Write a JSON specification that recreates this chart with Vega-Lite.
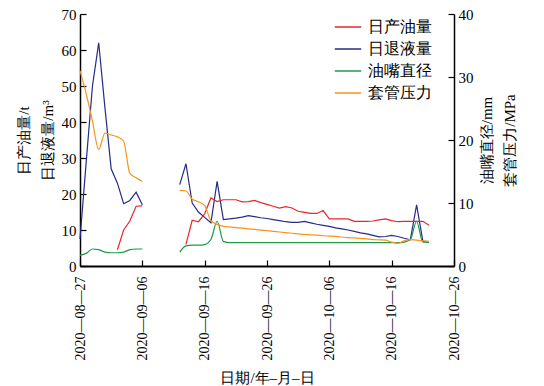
{
  "$schema": "https://vega.github.io/schema/vega-lite/v6.json",
  "width": 374,
  "height": 252,
  "autosize": {"type": "none"},
  "padding": {"left": 80, "top": 14, "right": 90, "bottom": 120},
  "background": "white",
  "config": {
    "view": {"stroke": null},
    "font": "Liberation Serif",
    "axis": {
      "domainColor": "#000000",
      "domainWidth": 1.5,
      "tickColor": "#000000",
      "tickWidth": 1.2,
      "tickSize": -6,
      "labelColor": "#000000",
      "labelFont": "Liberation Serif",
      "labelFontSize": 15,
      "titleFont": "Liberation Serif",
      "titleFontSize": 15,
      "titleFontWeight": "normal",
      "titleColor": "#000000",
      "grid": false
    },
    "legend": {
      "labelFont": "Liberation Serif",
      "labelFontSize": 16,
      "labelColor": "#000000"
    }
  },
  "data": {
    "values": [
      {"d": "2020-08-27", "s": "日退液量", "g": "a", "v": 7.5},
      {"d": "2020-08-28", "s": "日退液量", "g": "a", "v": 29},
      {"d": "2020-08-29", "s": "日退液量", "g": "a", "v": 50},
      {"d": "2020-08-30", "s": "日退液量", "g": "a", "v": 62},
      {"d": "2020-08-31", "s": "日退液量", "g": "a", "v": 44},
      {"d": "2020-09-01", "s": "日退液量", "g": "a", "v": 27},
      {"d": "2020-09-02", "s": "日退液量", "g": "a", "v": 23},
      {"d": "2020-09-03", "s": "日退液量", "g": "a", "v": 17.3},
      {"d": "2020-09-04", "s": "日退液量", "g": "a", "v": 18.2},
      {"d": "2020-09-05", "s": "日退液量", "g": "a", "v": 20.5},
      {"d": "2020-09-06", "s": "日退液量", "g": "a", "v": 17.0},
      {"d": "2020-09-12", "s": "日退液量", "g": "b", "v": 22.6},
      {"d": "2020-09-13", "s": "日退液量", "g": "b", "v": 28.4},
      {"d": "2020-09-14", "s": "日退液量", "g": "b", "v": 17.5},
      {"d": "2020-09-15", "s": "日退液量", "g": "b", "v": 15},
      {"d": "2020-09-16", "s": "日退液量", "g": "b", "v": 13.5},
      {"d": "2020-09-17", "s": "日退液量", "g": "b", "v": 12},
      {"d": "2020-09-18", "s": "日退液量", "g": "b", "v": 23.5},
      {"d": "2020-09-19", "s": "日退液量", "g": "b", "v": 12.9},
      {"d": "2020-09-20", "s": "日退液量", "g": "b", "v": 13.1},
      {"d": "2020-09-21", "s": "日退液量", "g": "b", "v": 13.3},
      {"d": "2020-09-22", "s": "日退液量", "g": "b", "v": 13.6},
      {"d": "2020-09-23", "s": "日退液量", "g": "b", "v": 14.0},
      {"d": "2020-09-24", "s": "日退液量", "g": "b", "v": 13.7},
      {"d": "2020-09-25", "s": "日退液量", "g": "b", "v": 13.4},
      {"d": "2020-09-26", "s": "日退液量", "g": "b", "v": 13.2},
      {"d": "2020-09-27", "s": "日退液量", "g": "b", "v": 12.9},
      {"d": "2020-09-28", "s": "日退液量", "g": "b", "v": 12.6},
      {"d": "2020-09-29", "s": "日退液量", "g": "b", "v": 12.3},
      {"d": "2020-09-30", "s": "日退液量", "g": "b", "v": 12.1},
      {"d": "2020-10-01", "s": "日退液量", "g": "b", "v": 12.1},
      {"d": "2020-10-02", "s": "日退液量", "g": "b", "v": 12.4},
      {"d": "2020-10-03", "s": "日退液量", "g": "b", "v": 12.0},
      {"d": "2020-10-04", "s": "日退液量", "g": "b", "v": 11.6},
      {"d": "2020-10-05", "s": "日退液量", "g": "b", "v": 11.3},
      {"d": "2020-10-06", "s": "日退液量", "g": "b", "v": 11.0},
      {"d": "2020-10-07", "s": "日退液量", "g": "b", "v": 10.6},
      {"d": "2020-10-08", "s": "日退液量", "g": "b", "v": 10.3},
      {"d": "2020-10-09", "s": "日退液量", "g": "b", "v": 10.0},
      {"d": "2020-10-10", "s": "日退液量", "g": "b", "v": 9.6},
      {"d": "2020-10-11", "s": "日退液量", "g": "b", "v": 9.2},
      {"d": "2020-10-12", "s": "日退液量", "g": "b", "v": 8.9},
      {"d": "2020-10-13", "s": "日退液量", "g": "b", "v": 8.5},
      {"d": "2020-10-14", "s": "日退液量", "g": "b", "v": 8.1},
      {"d": "2020-10-15", "s": "日退液量", "g": "b", "v": 8.2},
      {"d": "2020-10-16", "s": "日退液量", "g": "b", "v": 8.5},
      {"d": "2020-10-17", "s": "日退液量", "g": "b", "v": 8.2},
      {"d": "2020-10-18", "s": "日退液量", "g": "b", "v": 7.7},
      {"d": "2020-10-19", "s": "日退液量", "g": "b", "v": 7.3},
      {"d": "2020-10-20", "s": "日退液量", "g": "b", "v": 17.0},
      {"d": "2020-10-21", "s": "日退液量", "g": "b", "v": 6.9},
      {"d": "2020-10-22", "s": "日退液量", "g": "b", "v": 6.6},

      {"d": "2020-09-02", "s": "日产油量", "g": "a", "v": 4.5},
      {"d": "2020-09-03", "s": "日产油量", "g": "a", "v": 10},
      {"d": "2020-09-04", "s": "日产油量", "g": "a", "v": 12.5},
      {"d": "2020-09-05", "s": "日产油量", "g": "a", "v": 16.6},
      {"d": "2020-09-06", "s": "日产油量", "g": "a", "v": 16.7},
      {"d": "2020-09-13", "s": "日产油量", "g": "b", "v": 6.0},
      {"d": "2020-09-14", "s": "日产油量", "g": "b", "v": 12.7},
      {"d": "2020-09-15", "s": "日产油量", "g": "b", "v": 12.3},
      {"d": "2020-09-16", "s": "日产油量", "g": "b", "v": 14.5},
      {"d": "2020-09-17", "s": "日产油量", "g": "b", "v": 18.9},
      {"d": "2020-09-18", "s": "日产油量", "g": "b", "v": 17.9},
      {"d": "2020-09-19", "s": "日产油量", "g": "b", "v": 18.4},
      {"d": "2020-09-20", "s": "日产油量", "g": "b", "v": 18.4},
      {"d": "2020-09-21", "s": "日产油量", "g": "b", "v": 18.4},
      {"d": "2020-09-22", "s": "日产油量", "g": "b", "v": 17.8},
      {"d": "2020-09-23", "s": "日产油量", "g": "b", "v": 17.9},
      {"d": "2020-09-24", "s": "日产油量", "g": "b", "v": 18.2},
      {"d": "2020-09-25", "s": "日产油量", "g": "b", "v": 17.6},
      {"d": "2020-09-26", "s": "日产油量", "g": "b", "v": 17.1},
      {"d": "2020-09-27", "s": "日产油量", "g": "b", "v": 16.6},
      {"d": "2020-09-28", "s": "日产油量", "g": "b", "v": 16.1},
      {"d": "2020-09-29", "s": "日产油量", "g": "b", "v": 16.5},
      {"d": "2020-09-30", "s": "日产油量", "g": "b", "v": 16.1},
      {"d": "2020-10-01", "s": "日产油量", "g": "b", "v": 15.2},
      {"d": "2020-10-02", "s": "日产油量", "g": "b", "v": 14.9},
      {"d": "2020-10-03", "s": "日产油量", "g": "b", "v": 14.6},
      {"d": "2020-10-04", "s": "日产油量", "g": "b", "v": 14.6},
      {"d": "2020-10-05", "s": "日产油量", "g": "b", "v": 15.4},
      {"d": "2020-10-06", "s": "日产油量", "g": "b", "v": 13.1},
      {"d": "2020-10-07", "s": "日产油量", "g": "b", "v": 13.1},
      {"d": "2020-10-08", "s": "日产油量", "g": "b", "v": 13.1},
      {"d": "2020-10-09", "s": "日产油量", "g": "b", "v": 13.1},
      {"d": "2020-10-10", "s": "日产油量", "g": "b", "v": 12.4},
      {"d": "2020-10-11", "s": "日产油量", "g": "b", "v": 12.4},
      {"d": "2020-10-12", "s": "日产油量", "g": "b", "v": 12.4},
      {"d": "2020-10-13", "s": "日产油量", "g": "b", "v": 12.5},
      {"d": "2020-10-14", "s": "日产油量", "g": "b", "v": 12.8},
      {"d": "2020-10-15", "s": "日产油量", "g": "b", "v": 13.1},
      {"d": "2020-10-16", "s": "日产油量", "g": "b", "v": 12.6},
      {"d": "2020-10-17", "s": "日产油量", "g": "b", "v": 12.3},
      {"d": "2020-10-18", "s": "日产油量", "g": "b", "v": 12.4},
      {"d": "2020-10-19", "s": "日产油量", "g": "b", "v": 12.4},
      {"d": "2020-10-20", "s": "日产油量", "g": "b", "v": 12.4},
      {"d": "2020-10-21", "s": "日产油量", "g": "b", "v": 12.4},
      {"d": "2020-10-22", "s": "日产油量", "g": "b", "v": 11.3},

      {"d": "2020-08-27", "s": "油嘴直径", "g": "a", "v": 1.7},
      {"d": "2020-08-28", "s": "油嘴直径", "g": "a", "v": 2.0},
      {"d": "2020-08-29", "s": "油嘴直径", "g": "a", "v": 2.7},
      {"d": "2020-08-30", "s": "油嘴直径", "g": "a", "v": 2.6},
      {"d": "2020-08-31", "s": "油嘴直径", "g": "a", "v": 2.2},
      {"d": "2020-09-01", "s": "油嘴直径", "g": "a", "v": 2.1},
      {"d": "2020-09-02", "s": "油嘴直径", "g": "a", "v": 2.1},
      {"d": "2020-09-03", "s": "油嘴直径", "g": "a", "v": 2.2},
      {"d": "2020-09-04", "s": "油嘴直径", "g": "a", "v": 2.6},
      {"d": "2020-09-05", "s": "油嘴直径", "g": "a", "v": 2.7},
      {"d": "2020-09-06", "s": "油嘴直径", "g": "a", "v": 2.7},
      {"d": "2020-09-12", "s": "油嘴直径", "g": "b", "v": 2.2},
      {"d": "2020-09-13", "s": "油嘴直径", "g": "b", "v": 3.2},
      {"d": "2020-09-14", "s": "油嘴直径", "g": "b", "v": 3.3},
      {"d": "2020-09-15", "s": "油嘴直径", "g": "b", "v": 3.3},
      {"d": "2020-09-16", "s": "油嘴直径", "g": "b", "v": 3.4},
      {"d": "2020-09-17", "s": "油嘴直径", "g": "b", "v": 4.2},
      {"d": "2020-09-18", "s": "油嘴直径", "g": "b", "v": 7.1},
      {"d": "2020-09-19", "s": "油嘴直径", "g": "b", "v": 3.9},
      {"d": "2020-09-20", "s": "油嘴直径", "g": "b", "v": 3.7},
      {"d": "2020-09-25", "s": "油嘴直径", "g": "b", "v": 3.7},
      {"d": "2020-09-30", "s": "油嘴直径", "g": "b", "v": 3.7},
      {"d": "2020-10-05", "s": "油嘴直径", "g": "b", "v": 3.7},
      {"d": "2020-10-10", "s": "油嘴直径", "g": "b", "v": 3.7},
      {"d": "2020-10-15", "s": "油嘴直径", "g": "b", "v": 3.7},
      {"d": "2020-10-17", "s": "油嘴直径", "g": "b", "v": 3.7},
      {"d": "2020-10-18", "s": "油嘴直径", "g": "b", "v": 3.8},
      {"d": "2020-10-19", "s": "油嘴直径", "g": "b", "v": 4.2},
      {"d": "2020-10-20", "s": "油嘴直径", "g": "b", "v": 7.1},
      {"d": "2020-10-21", "s": "油嘴直径", "g": "b", "v": 3.8},
      {"d": "2020-10-22", "s": "油嘴直径", "g": "b", "v": 3.8},

      {"d": "2020-08-27", "s": "套管压力", "g": "a", "v": 31},
      {"d": "2020-08-28", "s": "套管压力", "g": "a", "v": 27.3},
      {"d": "2020-08-29", "s": "套管压力", "g": "a", "v": 23},
      {"d": "2020-08-30", "s": "套管压力", "g": "a", "v": 18.5},
      {"d": "2020-08-31", "s": "套管压力", "g": "a", "v": 21.1},
      {"d": "2020-09-01", "s": "套管压力", "g": "a", "v": 20.8},
      {"d": "2020-09-02", "s": "套管压力", "g": "a", "v": 20.5},
      {"d": "2020-09-03", "s": "套管压力", "g": "a", "v": 19.8},
      {"d": "2020-09-04", "s": "套管压力", "g": "a", "v": 14.7},
      {"d": "2020-09-05", "s": "套管压力", "g": "a", "v": 14.0},
      {"d": "2020-09-06", "s": "套管压力", "g": "a", "v": 13.4},
      {"d": "2020-09-12", "s": "套管压力", "g": "b", "v": 12.0},
      {"d": "2020-09-13", "s": "套管压力", "g": "b", "v": 11.9},
      {"d": "2020-09-14", "s": "套管压力", "g": "b", "v": 10.6},
      {"d": "2020-09-15", "s": "套管压力", "g": "b", "v": 10.2},
      {"d": "2020-09-16", "s": "套管压力", "g": "b", "v": 9.6},
      {"d": "2020-09-17", "s": "套管压力", "g": "b", "v": 7.2},
      {"d": "2020-09-18", "s": "套管压力", "g": "b", "v": 6.6},
      {"d": "2020-09-19", "s": "套管压力", "g": "b", "v": 6.3},
      {"d": "2020-09-20", "s": "套管压力", "g": "b", "v": 6.2},
      {"d": "2020-09-21", "s": "套管压力", "g": "b", "v": 6.1},
      {"d": "2020-09-22", "s": "套管压力", "g": "b", "v": 6.0},
      {"d": "2020-09-23", "s": "套管压力", "g": "b", "v": 5.9},
      {"d": "2020-09-24", "s": "套管压力", "g": "b", "v": 5.8},
      {"d": "2020-09-25", "s": "套管压力", "g": "b", "v": 5.7},
      {"d": "2020-09-26", "s": "套管压力", "g": "b", "v": 5.6},
      {"d": "2020-09-27", "s": "套管压力", "g": "b", "v": 5.5},
      {"d": "2020-09-28", "s": "套管压力", "g": "b", "v": 5.4},
      {"d": "2020-09-29", "s": "套管压力", "g": "b", "v": 5.3},
      {"d": "2020-09-30", "s": "套管压力", "g": "b", "v": 5.2},
      {"d": "2020-10-01", "s": "套管压力", "g": "b", "v": 5.1},
      {"d": "2020-10-02", "s": "套管压力", "g": "b", "v": 5.0},
      {"d": "2020-10-03", "s": "套管压力", "g": "b", "v": 4.95},
      {"d": "2020-10-04", "s": "套管压力", "g": "b", "v": 4.9},
      {"d": "2020-10-05", "s": "套管压力", "g": "b", "v": 4.8},
      {"d": "2020-10-06", "s": "套管压力", "g": "b", "v": 4.75},
      {"d": "2020-10-07", "s": "套管压力", "g": "b", "v": 4.7},
      {"d": "2020-10-08", "s": "套管压力", "g": "b", "v": 4.6},
      {"d": "2020-10-09", "s": "套管压力", "g": "b", "v": 4.5},
      {"d": "2020-10-10", "s": "套管压力", "g": "b", "v": 4.45},
      {"d": "2020-10-11", "s": "套管压力", "g": "b", "v": 4.4},
      {"d": "2020-10-12", "s": "套管压力", "g": "b", "v": 4.3},
      {"d": "2020-10-13", "s": "套管压力", "g": "b", "v": 4.2},
      {"d": "2020-10-14", "s": "套管压力", "g": "b", "v": 4.15},
      {"d": "2020-10-15", "s": "套管压力", "g": "b", "v": 4.1},
      {"d": "2020-10-16", "s": "套管压力", "g": "b", "v": 3.8},
      {"d": "2020-10-17", "s": "套管压力", "g": "b", "v": 3.6},
      {"d": "2020-10-18", "s": "套管压力", "g": "b", "v": 4.0},
      {"d": "2020-10-19", "s": "套管压力", "g": "b", "v": 4.2},
      {"d": "2020-10-20", "s": "套管压力", "g": "b", "v": 4.1},
      {"d": "2020-10-21", "s": "套管压力", "g": "b", "v": 4.0},
      {"d": "2020-10-22", "s": "套管压力", "g": "b", "v": 3.9}
    ]
  },
  "encoding": {
    "x": {
      "field": "d",
      "type": "temporal",
      "scale": {
        "type": "utc",
        "domain": [
          {"year": 2020, "month": 8, "date": 27, "utc": true},
          {"year": 2020, "month": 10, "date": 26, "utc": true}
        ]
      },
      "axis": {
        "values": [
          {"year": 2020, "month": 8, "date": 27, "utc": true},
          {"year": 2020, "month": 9, "date": 6, "utc": true},
          {"year": 2020, "month": 9, "date": 16, "utc": true},
          {"year": 2020, "month": 9, "date": 26, "utc": true},
          {"year": 2020, "month": 10, "date": 6, "utc": true},
          {"year": 2020, "month": 10, "date": 16, "utc": true},
          {"year": 2020, "month": 10, "date": 26, "utc": true}
        ],
        "format": "%Y—%m—%d",
        "labelAngle": -90,
        "labelAlign": "right",
        "labelBaseline": "middle",
        "labelPadding": 16,
        "labelFontSize": 14,
        "title": "日期/年–月–日",
        "titleFontSize": 15,
        "titlePadding": 10,
        "domainWidth": 2
      }
    },
    "color": {
      "field": "s",
      "type": "nominal",
      "scale": {
        "domain": ["日产油量", "日退液量", "油嘴直径", "套管压力"],
        "range": ["#e8262b", "#262b87", "#1e9a46", "#f7941d"]
      },
      "legend": {
        "title": null,
        "orient": "none",
        "legendX": 254,
        "legendY": -1,
        "symbolType": "stroke",
        "symbolSize": 700,
        "symbolStrokeWidth": 1.5,
        "rowPadding": -6.5,
        "labelOffset": 6
      }
    },
    "detail": {"field": "g", "type": "nominal"}
  },
  "layer": [
    {
      "transform": [{"filter": {"field": "s", "oneOf": ["日产油量", "日退液量"]}}],
      "mark": {"type": "line", "strokeWidth": 1.2},
      "encoding": {
        "y": {
          "field": "v",
          "type": "quantitative",
          "scale": {"domain": [0, 70], "nice": false},
          "axis": {
            "orient": "left",
            "values": [0, 10, 20, 30, 40, 50, 60, 70],
            "labelPadding": 10,
            "title": ["日产油量/t", "日退液量/m³"],
            "titleLineHeight": 24,
            "titlePadding": 6
          }
        }
      }
    },
    {
      "transform": [{"filter": {"field": "s", "oneOf": ["油嘴直径", "套管压力"]}}],
      "mark": {"type": "line", "strokeWidth": 1.2, "interpolate": "monotone"},
      "encoding": {
        "y": {
          "field": "v",
          "type": "quantitative",
          "scale": {"domain": [0, 40], "nice": false},
          "axis": {
            "orient": "right",
            "values": [0, 10, 20, 30, 40],
            "labelPadding": 10,
            "title": ["油嘴直径/mm", "套管压力/MPa"],
            "titleAngle": -90,
            "titleLineHeight": 23,
            "titlePadding": -2
          }
        }
      }
    }
  ],
  "resolve": {"scale": {"y": "independent"}}
}
